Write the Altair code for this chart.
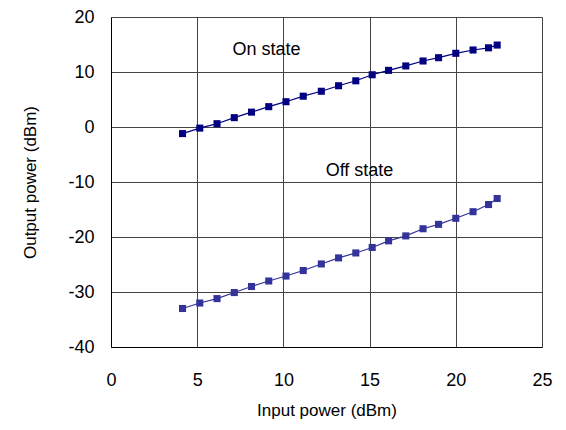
import altair as alt
import pandas as pd

input_power = [4.15, 5.15, 6.15, 7.15, 8.15, 9.15, 10.15, 11.15, 12.2, 13.2,
               14.2, 15.15, 16.1, 17.1, 18.1, 19.0, 20.0, 21.0, 21.9, 22.4]
on_state = [-1.2, -0.2, 0.6, 1.7, 2.7, 3.7, 4.6, 5.6, 6.5, 7.5,
            8.4, 9.5, 10.3, 11.1, 12.0, 12.6, 13.4, 14.0, 14.4, 14.9]
off_state = [-33.0, -32.0, -31.2, -30.1, -29.0, -28.0, -27.1, -26.1, -24.9, -23.8,
             -22.9, -21.9, -20.7, -19.8, -18.5, -17.7, -16.6, -15.4, -14.1, -13.0]

label_text = ["On state", "Off state"]
label_x = [7.05, 12.45]
label_y = [13.1, -8.9]

rows = []
for xi, yo, yf in zip(input_power, on_state, off_state):
    rows.append({"x": xi, "y": yo, "series": "On state"})
    rows.append({"x": xi, "y": yf, "series": "Off state"})
df = pd.DataFrame(rows)
labels = pd.DataFrame({"text": label_text, "x": label_x, "y": label_y})

FONT = "Liberation Sans"

xs = alt.X("x:Q", scale=alt.Scale(domain=[0, 25], nice=False, zero=False),
           axis=alt.Axis(values=[0, 5, 10, 15, 20, 25], title="Input power (dBm)",
                         labelExpr="'' + datum.value", labelFlush=False,
                         labelPadding=24, titlePadding=13, ticks=False,
                         grid=True, gridColor="#444", gridWidth=1,
                         domainColor="#000", labelFont=FONT, titleFont=FONT,
                         labelFontSize=18, titleFontSize=17, titleFontWeight="normal",
                         labelColor="#000", titleColor="#000"))
ys = alt.Y("y:Q", scale=alt.Scale(domain=[-40, 20], nice=False, zero=False),
           axis=alt.Axis(values=[-40, -30, -20, -10, 0, 10, 20], title="Output power (dBm)",
                         labelExpr="'' + datum.value", labelFlush=False,
                         labelPadding=17, titlePadding=28, ticks=False,
                         grid=True, gridColor="#444", gridWidth=1,
                         domainColor="#000", labelFont=FONT, titleFont=FONT,
                         labelFontSize=18, titleFontSize=17, titleFontWeight="normal",
                         labelColor="#000", titleColor="#000"))

color = alt.Color("series:N", scale=alt.Scale(domain=["On state", "Off state"],
                                              range=["#000080", "#333399"]), legend=None)

lines = alt.Chart(df).mark_line(strokeWidth=1.2).encode(x=xs, y=ys, color=color, detail="series:N")
points = alt.Chart(df).mark_square(size=50, opacity=1, filled=True).encode(x="x:Q", y="y:Q", color=color)
text = alt.Chart(labels).mark_text(align="left", baseline="alphabetic", font=FONT,
                                   fontSize=18, color="#000").encode(x="x:Q", y="y:Q", text="text:N")

chart = alt.layer(lines, points, text).properties(
    width=431, height=330,
    autosize=alt.AutoSizeParams(type="none"),
    padding={"left": 103, "top": 9, "right": 14, "bottom": 74},
).configure_view(stroke="#888", strokeWidth=1.5).configure(background="white")

chart.save("out.html", embed_options={"renderer": "svg", "actions": False})
